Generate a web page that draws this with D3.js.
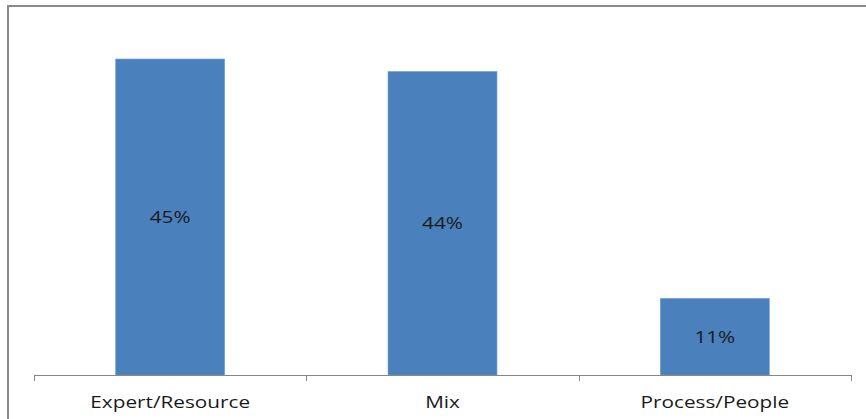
<!DOCTYPE html>
<html><head><meta charset="utf-8">
<script src="https://cdn.jsdelivr.net/npm/d3@7"></script>
<style>html,body{margin:0;padding:0;background:#fff;overflow:hidden}</style>
</head><body>
<svg id="c" width="866" height="419"></svg>
<script>
const categories = ["Expert/Resource", "Mix", "Process/People"];
const values = [45.4, 43.6, 11.0];
const valueLabels = ["45%", "44%", "11%"];

const svg = d3.select("#c");
const font = "'Open Sans', sans-serif";
const sx = 1.22;

// outer frame (only top and left edges visible)
svg.append("rect").attr("x", 8).attr("y", 6).attr("width", 900).attr("height", 500)
  .attr("fill", "none").attr("stroke", "#8a8a8a").attr("stroke-width", 2);

const x = d3.scaleBand().domain(categories).range([34, 851]).paddingInner(0.6).paddingOuter(0.3);
const y = d3.scaleLinear().domain([0, 50]).range([375, 27]);

svg.selectAll("rect.bar").data(categories).join("rect").attr("class", "bar")
  .attr("x", d => x(d)).attr("width", x.bandwidth())
  .attr("y", (d, i) => y(values[i])).attr("height", (d, i) => y(0) - y(values[i]))
  .attr("fill", "#4a80bc").attr("stroke", "#6f9bd0").attr("stroke-width", 0.6);

svg.selectAll("text.val").data(categories).join("text").attr("class", "val")
  .attr("transform", (d, i) => `translate(${x(d) + x.bandwidth() / 2},${(y(values[i]) + y(0)) / 2 + 6}) scale(${sx},1)`)
  .attr("text-anchor", "middle")
  .attr("font-family", font).attr("font-size", 17).attr("fill", "#1a1a1a")
  .text((d, i) => valueLabels[i]);

// axis
const step = (851 - 34) / categories.length;
const g = svg.append("g");
g.append("line").attr("x1", 34).attr("x2", 851).attr("y1", 375.5).attr("y2", 375.5)
  .attr("stroke", "#868686").attr("stroke-width", 1);
d3.range(categories.length + 1).forEach(i => {
  const px = Math.round(34 + i * step) + 0.5;
  g.append("line").attr("x1", px).attr("x2", px).attr("y1", 375).attr("y2", 381)
    .attr("stroke", "#868686").attr("stroke-width", 1);
});
g.selectAll("text").data(categories).join("text")
  .attr("transform", d => `translate(${x(d) + x.bandwidth() / 2},408) scale(${sx},1)`)
  .attr("text-anchor", "middle").attr("font-family", font).attr("font-size", 17)
  .attr("fill", "#1a1a1a").text(d => d);
</script>
</body></html>
